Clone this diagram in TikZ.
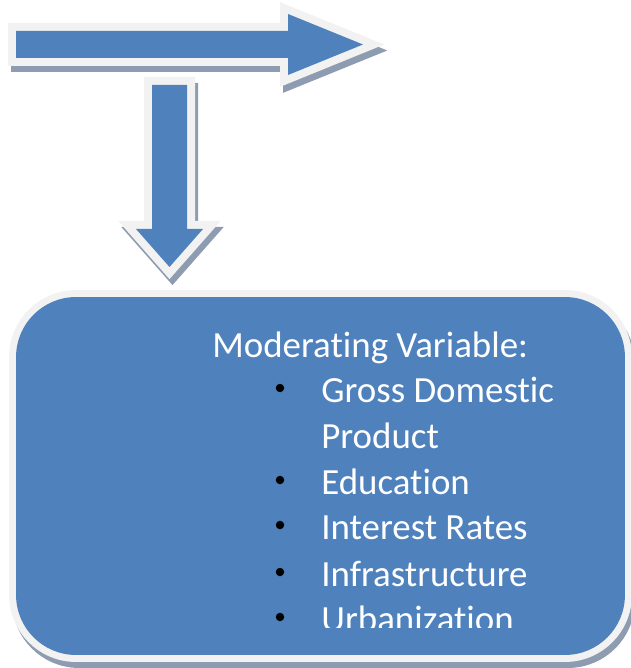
\documentclass[tikz,border=0pt]{standalone}
\usepackage{fontspec}
\setmainfont{Carlito}[Ligatures=NoCommon]

\definecolor{officeblue}{HTML}{4F81BD}
\definecolor{rimgrey}{HTML}{F2F2F2}
\definecolor{shadowgrey}{HTML}{8E9CB1}

\begin{document}
\begin{tikzpicture}[x=0.02cm, y=-0.02cm,
    blockshape/.style={
        preaction={draw=shadowgrey, fill=shadowgrey, line width=#1,
            transform canvas={shift={(3,6)}}},
        preaction={draw=rimgrey, fill=rimgrey, line width=#1},
        fill=officeblue},
    blockshape/.default=0.32cm,
    itemtext/.style={text=white, font=\fontsize{21}{26}\selectfont,
        anchor=base west, inner sep=0},
    bulletmark/.style={circle, fill=black, inner sep=0,
        minimum size=0.17cm}]
    \useasboundingbox (0,0) rectangle (630,668);

    % block arrows
    \path[blockshape] (16,31) -- (288,31) -- (288,14) -- (363,44.5)
        -- (288,75) -- (288,58) -- (16,58) -- cycle;
    \path[blockshape] (152,85) -- (187,85) -- (187,229) -- (203,229)
        -- (169.5,267) -- (136,229) -- (152,229) -- cycle;

    % moderating variable box
    \node[blockshape=0.28cm, rounded corners=1.2cm, minimum width=12.18cm,
        minimum height=7.16cm, inner sep=0] (modbox) at (320.5,476) {};

    \begin{scope}
        \clip (0,0) rectangle (630,627);
        \node[itemtext] (heading) at (212,357) {Moderating Variable:};
        \node[bulletmark] (dot-gdp) at (280,388) {};
        \node[itemtext] (gdp) at (321,402) {Gross Domestic};
        \node[itemtext] (gdp-2) at (321,448) {Product};
        \node[bulletmark] (dot-edu) at (280,480) {};
        \node[itemtext] (edu) at (321,494) {Education};
        \node[bulletmark] (dot-rates) at (280,525) {};
        \node[itemtext] (rates) at (321,539) {Interest Rates};
        \node[bulletmark] (dot-infra) at (280,572) {};
        \node[itemtext] (infra) at (321,586) {Infrastructure};
        \node[bulletmark] (dot-urban) at (280,617) {};
        \node[itemtext] (urban) at (321,631) {Urbanization};
    \end{scope}
\end{tikzpicture}
\end{document}
